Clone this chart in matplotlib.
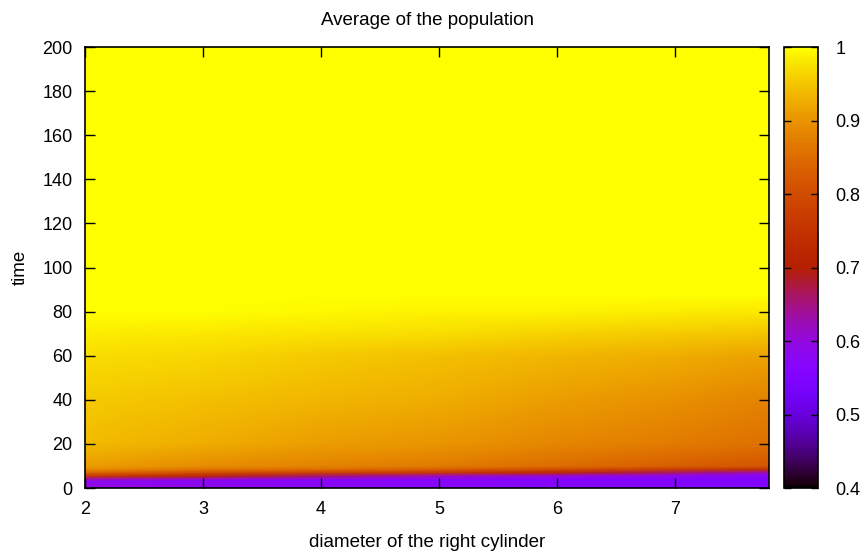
# Average of the population: heat map over diameter of the right cylinder vs time
import numpy as np
import matplotlib.pyplot as plt

# grid (coarse, shaded between points)
diameter = [2.0, 3.0, 4.0, 5.0, 6.0, 7.0, 7.8]
time = [0, 3, 4, 5.5, 7, 8.5, 10, 20, 40, 60, 70, 80, 88, 200]

avg_t0 = [0.60, 0.59, 0.58, 0.575, 0.57, 0.565, 0.56]
avg_t3 = [0.58, 0.575, 0.57, 0.565, 0.56, 0.555, 0.55]
avg_t4 = [0.62, 0.60, 0.58, 0.57, 0.56, 0.555, 0.55]
avg_t5 = [0.76, 0.72, 0.66, 0.62, 0.60, 0.58, 0.565]
avg_t7 = [0.84, 0.80, 0.78, 0.76, 0.72, 0.66, 0.62]
avg_t8 = [0.89, 0.86, 0.85, 0.83, 0.80, 0.77, 0.74]
avg_t10 = [0.91, 0.89, 0.88, 0.87, 0.85, 0.83, 0.815]
avg_t20 = [0.94, 0.925, 0.91, 0.90, 0.885, 0.87, 0.855]
avg_t40 = [0.955, 0.945, 0.935, 0.925, 0.91, 0.895, 0.88]
avg_t60 = [0.97, 0.965, 0.955, 0.945, 0.935, 0.925, 0.915]
avg_t70 = [0.985, 0.98, 0.975, 0.97, 0.962, 0.955, 0.95]
avg_t80 = [1.0, 0.998, 0.995, 0.99, 0.99, 0.985, 0.98]
avg_t88 = [1.0, 1.0, 1.0, 1.0, 1.0, 1.0, 1.0]
avg_t200 = [1.0, 1.0, 1.0, 1.0, 1.0, 1.0, 1.0]

avg_pop = np.array([avg_t0, avg_t3, avg_t4, avg_t5, avg_t7, avg_t8, avg_t10,
                    avg_t20, avg_t40, avg_t60, avg_t70, avg_t80, avg_t88, avg_t200])

plt.rcParams["font.family"] = ["Liberation Sans", "DejaVu Sans"]
plt.rcParams["font.size"] = 13

fig = plt.figure(figsize=(8.66, 5.51), dpi=100)
ax = fig.add_axes([0.0982, 0.1143, 0.7898, 0.8004])
cax = fig.add_axes([0.905, 0.1143, 0.039, 0.8004])

mesh = ax.pcolormesh(diameter, time, avg_pop, cmap="gnuplot",
                     vmin=0.4, vmax=1.0, shading="gouraud")
ax.set_xlim(2, 7.8)
ax.set_ylim(0, 200)
ax.set_xticks([2, 3, 4, 5, 6, 7])
ax.set_yticks(range(0, 201, 20))
ax.tick_params(direction="in", top=True, right=True, length=7, width=1, pad=9)
for s in ax.spines.values():
    s.set_linewidth(1.2)

ax.set_title("Average of the population", fontsize=13.5, pad=16)
ax.set_xlabel("diameter of the right cylinder", fontsize=13.5, labelpad=12)
ax.set_ylabel("time", fontsize=13.5, labelpad=10)

cb = fig.colorbar(mesh, cax=cax)
cb.set_ticks([0.4, 0.5, 0.6, 0.7, 0.8, 0.9, 1.0])
cb.set_ticklabels(["0.4", "0.5", "0.6", "0.7", "0.8", "0.9", "1"])
cax.tick_params(direction="in", left=True, right=True, length=5, width=1, pad=13)
cb.outline.set_linewidth(1.2)

fig.savefig("out.png", dpi=100)
